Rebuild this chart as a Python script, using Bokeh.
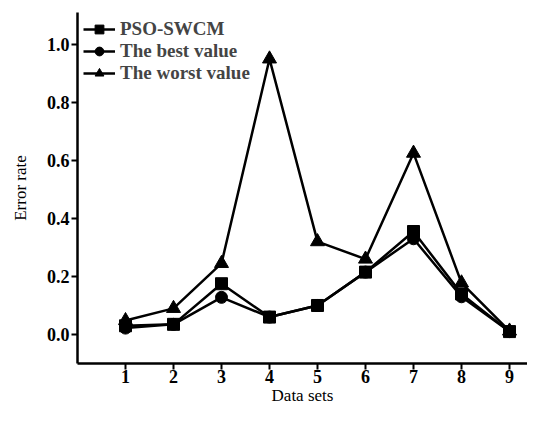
from bokeh.plotting import figure
from bokeh.models import Range1d, FixedTicker, Legend, LegendItem, CustomJSTickFormatter
from bokeh.embed import file_html
from bokeh.resources import INLINE

datasets = [1, 2, 3, 4, 5, 6, 7, 8, 9]
pso_swcm = [0.03, 0.035, 0.175, 0.06, 0.10, 0.215, 0.355, 0.14, 0.01]
best_value = [0.022, 0.035, 0.128, 0.06, 0.10, 0.215, 0.33, 0.13, 0.01]
worst_value = [0.048, 0.09, 0.245, 0.95, 0.32, 0.26, 0.625, 0.178, 0.012]
y_ticks = [0.0, 0.2, 0.4, 0.6, 0.8, 1.0]

FONT = "Liberation Serif"

p = figure(width=527, height=407, output_backend="svg", toolbar_location=None,
           x_range=Range1d(0, 9.375), y_range=Range1d(-0.1, 1.11),
           min_border_left=77, min_border_right=0, min_border_top=12, min_border_bottom=39)
p.outline_line_color = None
p.grid.grid_line_color = None

l1 = p.line(datasets, pso_swcm, line_color="black", line_width=2.5)
m1 = p.scatter(datasets, pso_swcm, marker="square", size=12, color="black")
l2 = p.line(datasets, best_value, line_color="black", line_width=2.5)
m2 = p.scatter(datasets, best_value, marker="circle", size=12, color="black")
l3 = p.line(datasets, worst_value, line_color="black", line_width=2.5)
m3 = p.scatter(datasets, worst_value, marker="triangle", size=14, color="black")

legend = Legend(items=[
    LegendItem(label="PSO-SWCM", renderers=[l1, m1]),
    LegendItem(label="The best value", renderers=[l2, m2]),
    LegendItem(label="The worst value", renderers=[l3, m3]),
], location="top_left")
legend.background_fill_alpha = 0
legend.border_line_color = None
legend.label_text_font = FONT
legend.label_text_font_style = "bold"
legend.label_text_font_size = "19px"
legend.glyph_width = 32
legend.spacing = 0
legend.padding = 0
legend.margin = 6
legend.label_standoff = 5
legend.label_height = 22
legend.glyph_height = 22
p.add_layout(legend)

p.xaxis.ticker = FixedTicker(ticks=datasets)
p.yaxis.ticker = FixedTicker(ticks=y_ticks)
p.yaxis.formatter = CustomJSTickFormatter(code="return tick.toFixed(1);")

for ax in (p.xaxis, p.yaxis):
    ax.axis_line_width = 2.5
    ax.axis_line_color = "black"
    ax.major_tick_line_width = 2
    ax.major_tick_line_color = "black"
    ax.major_tick_out = 6
    ax.major_tick_in = 0
    ax.minor_tick_line_color = None
    ax.major_label_text_font = FONT
    ax.major_label_text_font_style = "bold"
    ax.major_label_text_font_size = "18px"
    ax.major_label_text_color = "black"
    ax.axis_label_text_font = FONT
    ax.axis_label_text_font_style = "normal"
    ax.axis_label_text_font_size = "17px"
    ax.axis_label_text_color = "black"

p.xaxis.axis_label = "Data sets"
p.yaxis.axis_label = "Error rate"
p.xaxis.major_label_standoff = 0
p.yaxis.major_label_standoff = 2
p.xaxis.axis_label_standoff = 0
p.yaxis.axis_label_standoff = 14

open("out.html", "w").write(file_html(p, INLINE))
